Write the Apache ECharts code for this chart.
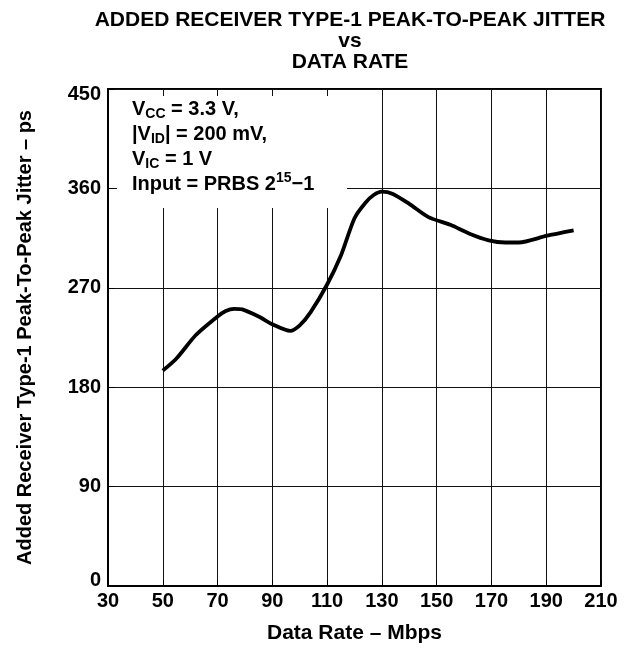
<!DOCTYPE html>
<html>
<head>
<meta charset="utf-8">
<script src="https://cdn.jsdelivr.net/npm/echarts@6/dist/echarts.min.js"></script>
<style>
html,body{margin:0;padding:0;background:#fff;}
#chart{width:628px;height:649px;}
</style>
</head>
<body>
<div id="chart"></div>
<script>
// Data
const dataRate = [50, 55, 62, 70, 73, 76, 79, 85, 90, 96.5, 100, 104, 110, 115, 120, 124, 127, 130, 134, 140, 147, 155, 162, 169, 175, 180, 190, 200];
const jitter   = [195, 206, 227, 244, 249, 251, 250.5, 244, 237, 231, 236, 248, 273, 299, 333, 347, 354, 357, 355, 346, 334, 327, 319, 313, 311, 311, 317, 322];
const xTicks = [30, 50, 70, 90, 110, 130, 150, 170, 190, 210];
const yTicks = [0, 90, 180, 270, 360, 450];

const FONT = '"Liberation Sans", Arial, Helvetica, sans-serif';
const chart = echarts.init(document.getElementById('chart'), null, {renderer: 'canvas'});

const points = dataRate.map((x, i) => [x, jitter[i]]);
const yMin = yTicks[0], yMax = yTicks[yTicks.length - 1];

chart.setOption({
  backgroundColor: '#fff',
  animation: false,
  title: {
    text: 'ADDED RECEIVER TYPE-1 PEAK-TO-PEAK JITTER\nvs\nDATA RATE',
    left: 345,
    top: 5,
    textAlign: 'center',
    textStyle: {fontFamily: FONT, fontWeight: 'bold', fontSize: 21, lineHeight: 21, color: '#000'}
  },
  grid: {
    left: 108, right: 27, top: 89, bottom: 61,
    show: true, borderColor: '#000', borderWidth: 2, backgroundColor: 'transparent'
  },
  xAxis: {
    type: 'value',
    min: xTicks[0], max: xTicks[xTicks.length - 1], interval: 20,
    name: 'Data Rate – Mbps',
    nameLocation: 'middle', nameGap: 37,
    nameTextStyle: {fontFamily: FONT, fontWeight: 'bold', fontSize: 21, color: '#000'},
    axisLine: {show: true, lineStyle: {color: '#000', width: 2}},
    axisTick: {show: true, inside: true, length: 6, lineStyle: {color: '#000', width: 1}},
    axisLabel: {fontFamily: FONT, fontWeight: 'bold', fontSize: 20, color: '#000', margin: 5},
    splitLine: {show: true, lineStyle: {color: '#111', width: 1}}
  },
  yAxis: {
    type: 'value',
    min: yMin, max: yMax, interval: 90,
    name: 'Added Receiver Type-1 Peak-To-Peak Jitter – ps',
    nameLocation: 'middle', nameGap: 73, nameRotate: 90,
    nameTextStyle: {fontFamily: FONT, fontWeight: 'bold', fontSize: 20, color: '#000'},
    axisLine: {show: true, lineStyle: {color: '#000', width: 2}},
    axisTick: {show: true, inside: true, length: 6, lineStyle: {color: '#000', width: 1}},
    axisLabel: {
      fontFamily: FONT, fontWeight: 'bold', fontSize: 20, color: '#000', margin: 7,
      formatter: function (v) {
        if (v === yMax) return '{hi|' + v + '}';
        if (v === yMin) return '{lo|' + v + '}';
        return '' + v;
      },
      rich: {
        hi: {fontFamily: FONT, fontWeight: 'bold', fontSize: 20, color: '#000', padding: [10, 0, 0, 0]},
        lo: {fontFamily: FONT, fontWeight: 'bold', fontSize: 20, color: '#000', padding: [0, 0, 12, 0]}
      }
    },
    splitLine: {show: true, lineStyle: {color: '#111', width: 1}}
  },
  graphic: [
    {
      type: 'rect', z: 1,
      shape: {x: 117, y: 96, width: 230, height: 112},
      style: {fill: '#fff'}
    },
    {
      type: 'text', z: 2, left: 132, top: 99,
      style: {
        text: '{b|V}{sub|CC}{b| = 3.3 V,}\n{b||V}{sub|ID}{b|| = 200 mV,}\n{b|V}{sub|IC}{b| = 1 V}\n{b|Input = PRBS 2}{sup|15}{b|−1}',
        rich: {
          b: {fontFamily: FONT, fontWeight: 'bold', fontSize: 20, lineHeight: 25, fill: '#000'},
          sub: {fontFamily: FONT, fontWeight: 'bold', fontSize: 14, lineHeight: 14, verticalAlign: 'bottom', fill: '#000'},
          sup: {fontFamily: FONT, fontWeight: 'bold', fontSize: 14, lineHeight: 20, verticalAlign: 'top', fill: '#000'}
        }
      }
    }
  ],
  series: [{
    type: 'line',
    data: points,
    smooth: 0.25,
    symbol: 'none',
    lineStyle: {color: '#000', width: 3.8},
    z: 3
  }]
});
</script>
</body>
</html>
